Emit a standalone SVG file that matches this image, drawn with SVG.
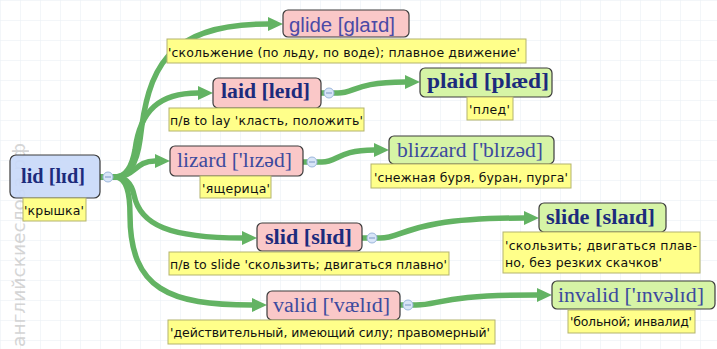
<svg xmlns="http://www.w3.org/2000/svg" width="717" height="349" viewBox="0 0 717 349">
<style>
.node rect{stroke:#3c3c3c;stroke-width:1.2}
.root{fill:#c9d9f8}
.child{fill:#fac8c8}
.leaf{fill:#d6f4a6}
.t{font-family:"Liberation Serif",serif;font-size:20px;fill:#3d4b9e}
.tb{font-family:"Liberation Serif",serif;font-size:20px;font-weight:bold;fill:#1c2b7c}
.ts{font-family:"Liberation Sans",sans-serif;font-size:20px;fill:#4a4aa6}
.lab rect{fill:#ffff8a;stroke:#b3b36e;stroke-width:1}
.lab text{font-family:"DejaVu Sans",sans-serif;font-size:12.5px;fill:#111}
.conn path{fill:none;stroke:#63b363;stroke-width:5.5;marker-end:url(#arr)}
.col circle{fill:#d8e5f8;stroke:#9db7dc;stroke-width:1}
.col line{stroke:#7d98c4;stroke-width:1}
</style>
<defs>
<pattern id="grid" width="20" height="20" patternUnits="userSpaceOnUse">
<path d="M20 0H0V20" fill="none" stroke="#e7eef4" stroke-width="1"/>
</pattern>
<marker id="arr" markerUnits="userSpaceOnUse" markerWidth="15" markerHeight="14" refX="0" refY="7" orient="auto">
<path d="M0,0 L15,7 L0,14 z" fill="#63b363"/>
</marker>
</defs>
<rect width="717" height="349" fill="#fff"/>
<rect width="717" height="349" fill="url(#grid)"/>

<text transform="translate(25,347) rotate(-90)" font-family="DejaVu Sans,sans-serif" font-size="17" textLength="204" lengthAdjust="spacingAndGlyphs" fill="#c4c4c4" opacity="0.7">английскиеслова.рф</text>

<g id="connectors" class="conn">
<path d="M100,177 H115 Q135,177 140,140 C148,70 165,24 268,24"/>
<path d="M100,177 H115 Q130,177 135,150 C140,110 160,93 198,93"/>
<path d="M100,177 H115 C135,177 135,161 155,161"/>
<path d="M100,177 H115 Q130,177 134,195 C140,225 170,238 242,238"/>
<path d="M100,177 H115 Q130,177 130,215 C130,290 170,305 252,305"/>
<path d="M321,93 H338 C355,93 355,82 405,82"/>
<path d="M303,162 H322 C338,162 338,150 374,150"/>
<path d="M362,238 H380 C405,238 405,218 524,218"/>
<path d="M400,305 H416 C440,305 440,295 537,295"/>
</g>

<g id="node-lid" class="node">
<rect class="root" x="10" y="155" width="90" height="43" rx="6" fill-opacity="0.92"/>
<text class="tb" x="21" y="183" textLength="64" lengthAdjust="spacingAndGlyphs">lid [lɪd]</text>
<g class="lab"><rect x="23" y="198" width="63" height="23"/><text x="24" y="215" textLength="60">'крышка'</text></g>
<g class="col"><circle cx="108" cy="177" r="5"/><line x1="105" y1="177" x2="111" y2="177"/></g>
</g>

<g id="node-glide" class="node">
<rect class="child" x="283" y="10" width="126" height="27" rx="5"/>
<text class="ts" x="289" y="32" textLength="106" lengthAdjust="spacingAndGlyphs">glide [glaɪd]</text>
<g class="lab"><rect x="167" y="39" width="359" height="24"/><text x="168" y="57" textLength="352">'скольжение (по льду, по воде); плавное движение'</text></g>
</g>

<g id="node-laid" class="node">
<rect class="child" x="213" y="78" width="108" height="30" rx="5"/>
<text class="tb" x="221" y="98" textLength="89" lengthAdjust="spacingAndGlyphs">laid [leɪd]</text>
<g class="lab"><rect x="169" y="108" width="195" height="23"/><text x="170" y="125" textLength="193">п/в to lay 'класть, положить'</text></g>
<g class="col"><circle cx="329" cy="93" r="5"/><line x1="326" y1="93" x2="332" y2="93"/></g>
</g>

<g id="node-plaid" class="node">
<rect class="leaf" x="420" y="68" width="132" height="29" rx="5"/>
<text class="tb" x="427" y="88" textLength="122" lengthAdjust="spacingAndGlyphs">plaid [plæd]</text>
<g class="lab"><rect x="467" y="97" width="46" height="23"/><text x="469" y="114" textLength="41">'плед'</text></g>
</g>

<g id="node-lizard" class="node">
<rect class="child" x="170" y="146" width="133" height="30" rx="5"/>
<text class="t" x="177" y="167" textLength="115" lengthAdjust="spacingAndGlyphs">lizard ['lɪzəd]</text>
<g class="lab"><rect x="200" y="176" width="71" height="22"/><text x="202" y="193" textLength="68">'ящерица'</text></g>
<g class="col"><circle cx="312" cy="162" r="5"/><line x1="309" y1="162" x2="315" y2="162"/></g>
</g>

<g id="node-blizzard" class="node">
<rect class="leaf" x="389" y="136" width="165" height="28" rx="5"/>
<text class="t" x="397" y="157" textLength="146" lengthAdjust="spacingAndGlyphs">blizzard ['blɪzəd]</text>
<g class="lab"><rect x="371" y="164" width="200" height="24"/><text x="374" y="182" textLength="194">'снежная буря, буран, пурга'</text></g>
</g>

<g id="node-slid" class="node">
<rect class="child" x="257" y="223" width="105" height="28" rx="5"/>
<text class="tb" x="265" y="244" textLength="87" lengthAdjust="spacingAndGlyphs">slid [slɪd]</text>
<g class="lab"><rect x="169" y="252" width="280" height="23"/><text x="170" y="269" textLength="277">п/в to slide 'скользить; двигаться плавно'</text></g>
<g class="col"><circle cx="372" cy="238" r="5"/><line x1="369" y1="238" x2="375" y2="238"/></g>
</g>

<g id="node-slide" class="node">
<rect class="leaf" x="539" y="203" width="127" height="29" rx="5"/>
<text class="tb" x="546" y="224" textLength="109" lengthAdjust="spacingAndGlyphs">slide [slaɪd]</text>
<g class="lab"><rect x="503" y="232" width="197" height="41"/><text x="505" y="250" textLength="192">'скользить; двигаться плав-</text><text x="505" y="267" textLength="157">но, без резких скачков'</text></g>
</g>

<g id="node-valid" class="node">
<rect class="child" x="267" y="291" width="133" height="29" rx="5"/>
<text class="t" x="273" y="312" textLength="117" lengthAdjust="spacingAndGlyphs">valid ['vælɪd]</text>
<g class="lab"><rect x="168" y="320" width="327" height="24"/><text x="170" y="337" textLength="320">'действительный, имеющий силу; правомерный'</text></g>
<g class="col"><circle cx="408" cy="305" r="5"/><line x1="405" y1="305" x2="411" y2="305"/></g>
</g>

<g id="node-invalid" class="node">
<rect class="leaf" x="552" y="281" width="163" height="28" rx="5"/>
<text class="t" x="558" y="302" textLength="146" lengthAdjust="spacingAndGlyphs">invalid ['ɪnvəlɪd]</text>
<g class="lab"><rect x="568" y="310" width="127" height="23"/><text x="570" y="326" textLength="122">'больной; инвалид'</text></g>
</g>
</svg>
